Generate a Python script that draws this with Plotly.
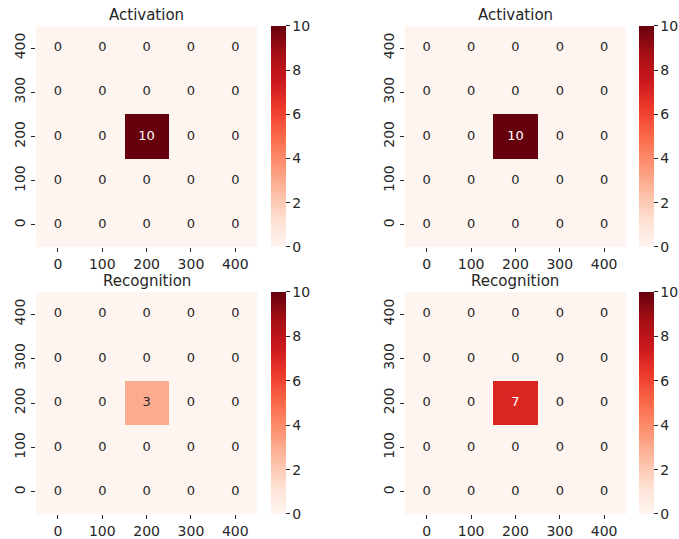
import plotly.graph_objects as go

# Grid coordinates (both axes)
x_labels = [0, 100, 200, 300, 400]
y_labels = [0, 100, 200, 300, 400]

# Counts per cell; rows follow y_labels (row 0 -> y=0)
activation_a = [
    [0, 0, 0, 0, 0],
    [0, 0, 0, 0, 0],
    [0, 0, 10, 0, 0],
    [0, 0, 0, 0, 0],
    [0, 0, 0, 0, 0],
]
activation_b = [
    [0, 0, 0, 0, 0],
    [0, 0, 0, 0, 0],
    [0, 0, 10, 0, 0],
    [0, 0, 0, 0, 0],
    [0, 0, 0, 0, 0],
]
recognition_a = [
    [0, 0, 0, 0, 0],
    [0, 0, 0, 0, 0],
    [0, 0, 3, 0, 0],
    [0, 0, 0, 0, 0],
    [0, 0, 0, 0, 0],
]
recognition_b = [
    [0, 0, 0, 0, 0],
    [0, 0, 0, 0, 0],
    [0, 0, 7, 0, 0],
    [0, 0, 0, 0, 0],
    [0, 0, 0, 0, 0],
]
panel_titles = ["Activation", "Activation", "Recognition", "Recognition"]
panels = [activation_a, activation_b, recognition_a, recognition_b]

z_min, z_max = 0, 10
colorbar_ticks = [0, 2, 4, 6, 8, 10]

# matplotlib "Reds"
reds = ["#fff5f0", "#fee0d2", "#fcbba1", "#fc9272", "#fb6a4a",
        "#ef3b2c", "#cb181d", "#a50f15", "#67000d"]
colorscale = [[i / (len(reds) - 1), c] for i, c in enumerate(reds)]

W, H = 679, 539
FONT = "DejaVu Sans"
TEXT = "#262626"
TICK_SIZE = 14
CELL_SIZE = 13
TITLE_SIZE = 15

# pixel boxes: (x0, x1, y0_top, y1_bottom)
boxes = [
    (36, 259, 26, 248),
    (407, 630, 26, 248),
    (36, 259, 293, 516),
    (407, 630, 293, 516),
]
cbar_x = [272.5, 643, 272.5, 643]
title_y = [15, 15, 282, 282]

fig = go.Figure()
layout = dict(
    width=W, height=H,
    margin=dict(l=0, r=0, t=0, b=0),
    paper_bgcolor="white", plot_bgcolor="white",
    font=dict(family=FONT, size=TICK_SIZE, color=TEXT),
    showlegend=False,
    annotations=[],
)

for i, (grid, title, box, cbx, ty_px) in enumerate(
        zip(panels, panel_titles, boxes, cbar_x, title_y)):
    n = i + 1
    xa = "x" if n == 1 else f"x{n}"
    ya = "y" if n == 1 else f"y{n}"
    x0, x1, yt, yb = box
    dom_x = [x0 / W, x1 / W]
    dom_y = [1 - yb / H, 1 - yt / H]

    fig.add_trace(go.Heatmap(
        x=x_labels, y=y_labels, z=grid,
        zmin=z_min, zmax=z_max, colorscale=colorscale,
        xaxis=xa, yaxis=ya, hoverinfo="skip",
        colorbar=dict(
            x=cbx / W, xanchor="left", xpad=0,
            y=(dom_y[0] + dom_y[1]) / 2, yanchor="middle", ypad=0,
            len=dom_y[1] - dom_y[0], lenmode="fraction",
            thickness=15, outlinewidth=0,
            tickvals=colorbar_ticks, ticks="outside", ticklen=4,
            tickwidth=1, tickcolor=TEXT,
            tickfont=dict(family=FONT, size=TICK_SIZE, color=TEXT),
        ),
    ))

    # cell value labels
    tx, ty, tt, tc = [], [], [], []
    for r, yv in enumerate(y_labels):
        for c, xv in enumerate(x_labels):
            v = grid[r][c]
            tx.append(xv)
            ty.append(yv)
            tt.append(str(v))
            tc.append("white" if v >= 5 else TEXT)
    fig.add_trace(go.Scatter(
        x=tx, y=ty, text=tt, mode="text",
        textfont=dict(family=FONT, size=CELL_SIZE, color=tc),
        xaxis=xa, yaxis=ya, hoverinfo="skip",
    ))

    axkey_x = "xaxis" if n == 1 else f"xaxis{n}"
    axkey_y = "yaxis" if n == 1 else f"yaxis{n}"
    layout[axkey_x] = dict(
        domain=dom_x, anchor=ya, range=[-50, 450],
        tickvals=x_labels, ticktext=[str(v) for v in x_labels],
        ticks="outside", ticklen=4, tickwidth=1, tickcolor=TEXT,
        showgrid=False, zeroline=False, showline=False,
        tickfont=dict(family=FONT, size=TICK_SIZE, color=TEXT),
    )
    layout[axkey_y] = dict(
        domain=dom_y, anchor=xa, range=[-50, 450],
        tickvals=y_labels, ticktext=[str(v) for v in y_labels],
        ticks="outside", ticklen=4, tickwidth=1, tickcolor=TEXT,
        tickangle=-90,
        showgrid=False, zeroline=False, showline=False,
        tickfont=dict(family=FONT, size=TICK_SIZE, color=TEXT),
    )
    layout["annotations"].append(dict(
        text=title, xref="paper", yref="paper",
        x=(dom_x[0] + dom_x[1]) / 2, y=1 - ty_px / H,
        xanchor="center", yanchor="middle", showarrow=False,
        font=dict(family=FONT, size=TITLE_SIZE, color=TEXT),
    ))

fig.update_layout(**layout)
fig.write_html("out.html")
